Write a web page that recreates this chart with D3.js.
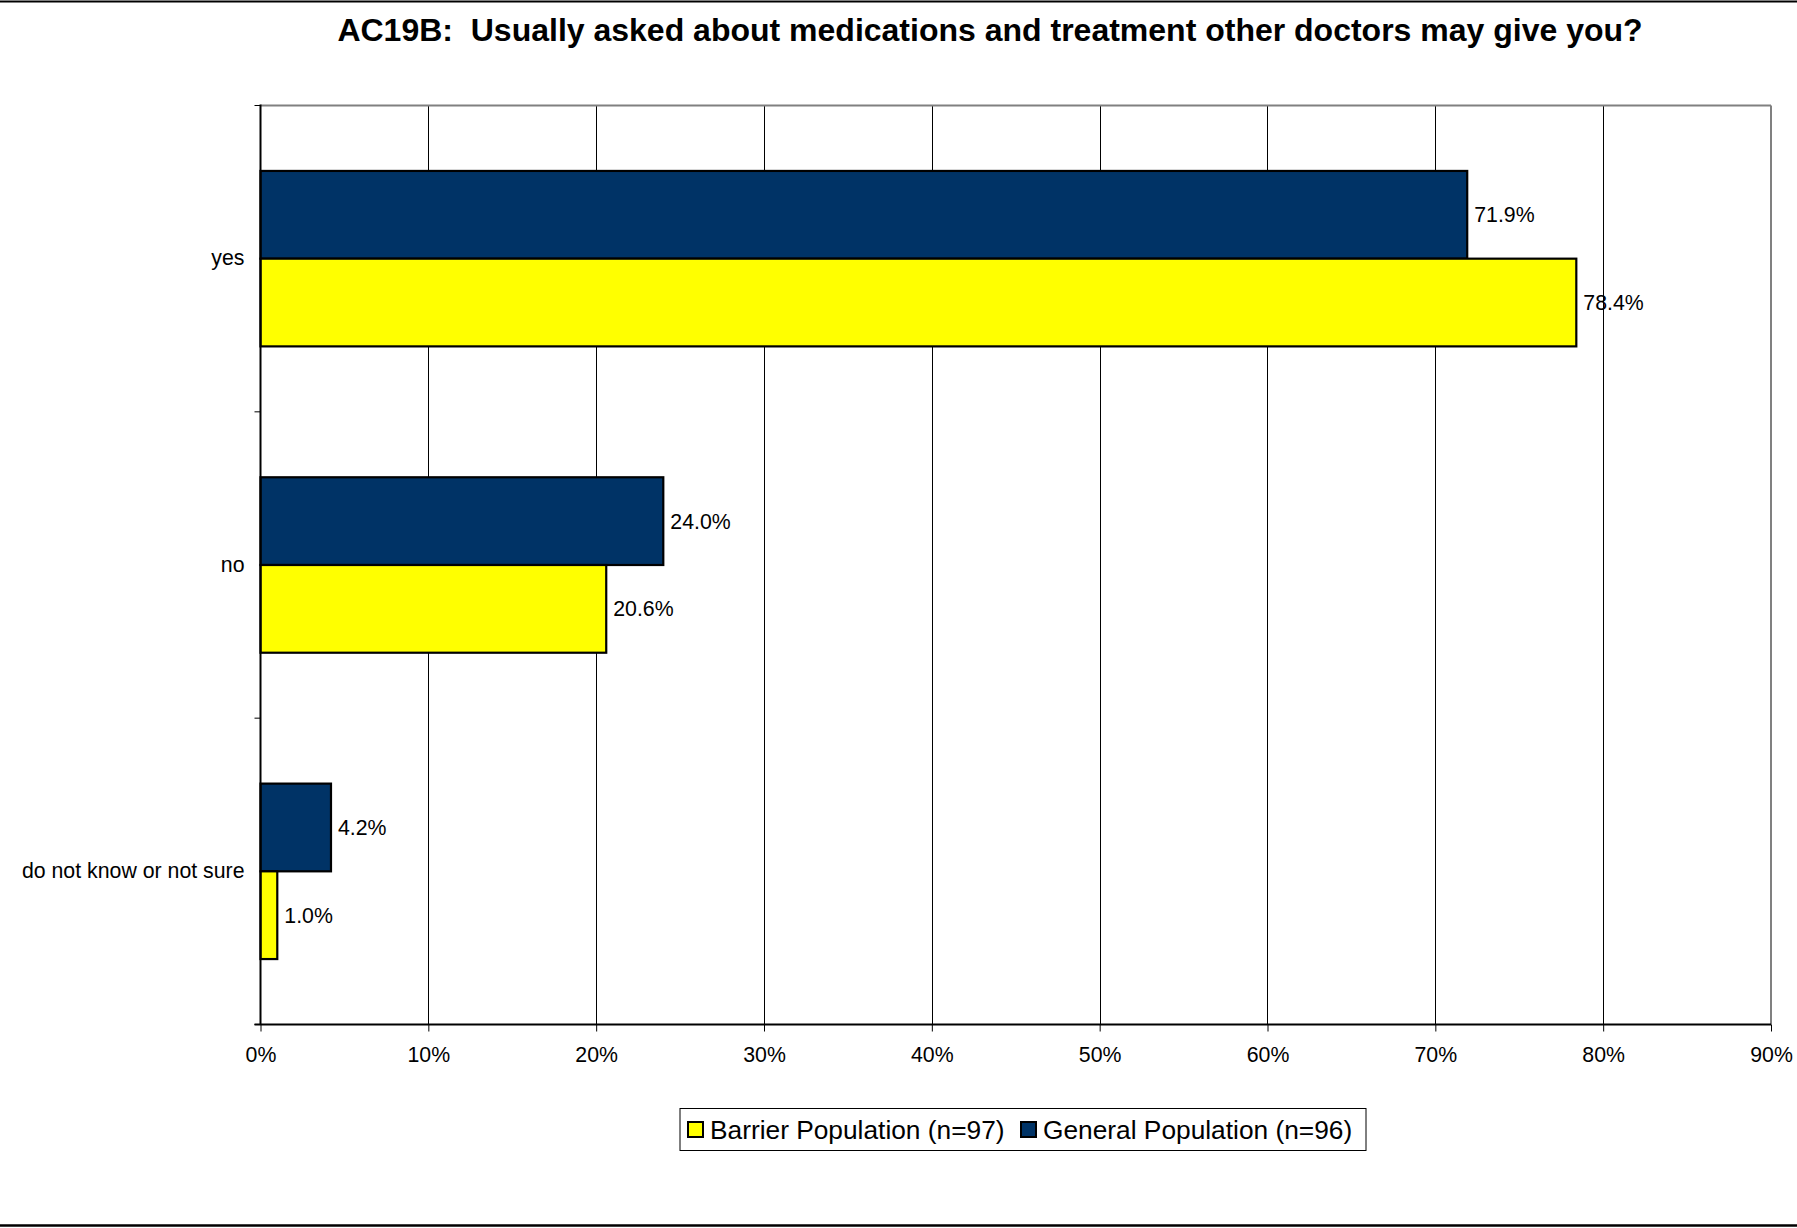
<!DOCTYPE html>
<html><head><meta charset="utf-8">
<script src="https://cdn.jsdelivr.net/npm/d3@7"></script>
<style>html,body{margin:0;padding:0;background:#fff;}svg{display:block;font-family:"Liberation Sans",Arial,sans-serif;}text{white-space:pre;}</style>
</head><body>
<script>
const categories = ["yes", "no", "do not know or not sure"];
const generalValues = [71.9, 24.0, 4.2];
const barrierValues = [78.4, 20.6, 1.0];
const seriesNames = ["General Population (n=96)", "Barrier Population (n=97)"];
const legendOrder = ["Barrier Population (n=97)", "General Population (n=96)"];
const seriesColors = {"General Population (n=96)": "#003366", "Barrier Population (n=97)": "#FFFF00"};
const xTicks = [0, 10, 20, 30, 40, 50, 60, 70, 80, 90];
const title = "AC19B:  Usually asked about medications and treatment other doctors may give you?";

const W = 1797, H = 1228;
const FONT = "'Liberation Sans', Arial, sans-serif";
const LBL = 21.3;
const m = {left: 260.5, right: 1771, top: 105.5, bottom: 1024.5};
const svg = d3.select("body").append("svg").attr("width", W).attr("height", H);

// page rules
svg.append("line").attr("x1", 0).attr("x2", W).attr("y1", 1.5).attr("y2", 1.5).attr("stroke", "#000").attr("stroke-width", 2);
svg.append("line").attr("x1", 0).attr("x2", W).attr("y1", 1225.5).attr("y2", 1225.5).attr("stroke", "#000").attr("stroke-width", 2.5);

svg.append("text").attr("x", 990).attr("y", 41).attr("text-anchor", "middle")
  .attr("font-weight", "bold").attr("font-size", 32).text(title);

const x = d3.scaleLinear().domain([0, 90]).range([m.left, m.right]);
const y = d3.scaleBand().domain(categories).range([m.top, m.bottom]);
const inner = d3.scaleBand().domain(seriesNames).range([0, y.bandwidth()]).paddingOuter(0.746).paddingInner(0);

// grid
svg.append("g").selectAll("line").data(xTicks.slice(1, -1)).join("line")
  .attr("x1", d => Math.round(x(d)) + 0.5).attr("x2", d => Math.round(x(d)) + 0.5)
  .attr("y1", m.top).attr("y2", m.bottom).attr("stroke", "#000").attr("stroke-width", 1);
// plot border top/right (gray)
svg.append("line").attr("x1", m.left).attr("x2", m.right).attr("y1", m.top).attr("y2", m.top).attr("stroke", "#808080").attr("stroke-width", 2);
svg.append("line").attr("x1", m.right).attr("x2", m.right).attr("y1", m.top).attr("y2", m.bottom).attr("stroke", "#808080").attr("stroke-width", 2);

const rows = categories.map((c, i) => ({cat: c, vals: [
  {s: seriesNames[0], v: generalValues[i]}, {s: seriesNames[1], v: barrierValues[i]}]}));

const g = svg.append("g");
rows.forEach(r => {
  r.vals.forEach(d => {
    const y0 = y(r.cat) + inner(d.s);
    g.append("rect").attr("x", x(0)).attr("y", y0).attr("width", x(d.v) - x(0)).attr("height", inner.bandwidth())
      .attr("fill", seriesColors[d.s]).attr("stroke", "#000").attr("stroke-width", 2.2);
    g.append("text").attr("x", x(d.v) + 7).attr("y", y0 + inner.bandwidth() / 2).attr("dy", "0.35em")
      .attr("font-size", LBL).attr("fill", "#000").text(d.v.toFixed(1) + "%");
  });
});

// x axis
const xAxis = d3.axisBottom(x).tickValues(xTicks).tickFormat(d => d + "%").tickSize(7).tickPadding(15);
const gx = svg.append("g").attr("transform", `translate(0,${m.bottom})`).call(xAxis);
gx.select(".domain").attr("stroke", "#000").attr("stroke-width", 2).attr("d", `M${m.left - 6},0H${m.right}`);
gx.selectAll(".tick line").attr("stroke", "#000").attr("stroke-width", 1);
gx.selectAll(".tick text").attr("font-size", LBL).attr("fill", "#000").attr("font-family", FONT);

// y axis
const yAxis = d3.axisLeft(y).tickSize(0).tickPadding(16);
const gy = svg.append("g").attr("transform", `translate(${m.left},0)`).call(yAxis);
gy.select(".domain").attr("stroke", "#000").attr("stroke-width", 2).attr("d", `M0,${m.top - 1}V${m.bottom}`);
gy.selectAll(".tick text").attr("font-size", LBL).attr("fill", "#000").attr("font-family", FONT);
const bounds = [m.top, ...categories.map(c => y(c) + y.bandwidth())];
gy.append("g").selectAll("line").data(bounds).join("line")
  .attr("x1", -6).attr("x2", 0).attr("y1", d => d).attr("y2", d => d).attr("stroke", "#000").attr("stroke-width", 1);

// legend
const lg = svg.append("g");
lg.append("rect").attr("x", 680).attr("y", 1108.5).attr("width", 686).attr("height", 42)
  .attr("fill", "#fff").attr("stroke", "#000").attr("stroke-width", 1);
const legX = [688, 1021];
legendOrder.forEach((s, i) => {
  lg.append("rect").attr("x", legX[i]).attr("y", 1122).attr("width", 15).attr("height", 15)
    .attr("fill", seriesColors[s]).attr("stroke", "#000").attr("stroke-width", 2);
  lg.append("text").attr("x", legX[i] + 22).attr("y", 1130).attr("dy", "0.36em")
    .attr("font-size", 26.3).attr("fill", "#000").text(s);
});
</script>
</body></html>
